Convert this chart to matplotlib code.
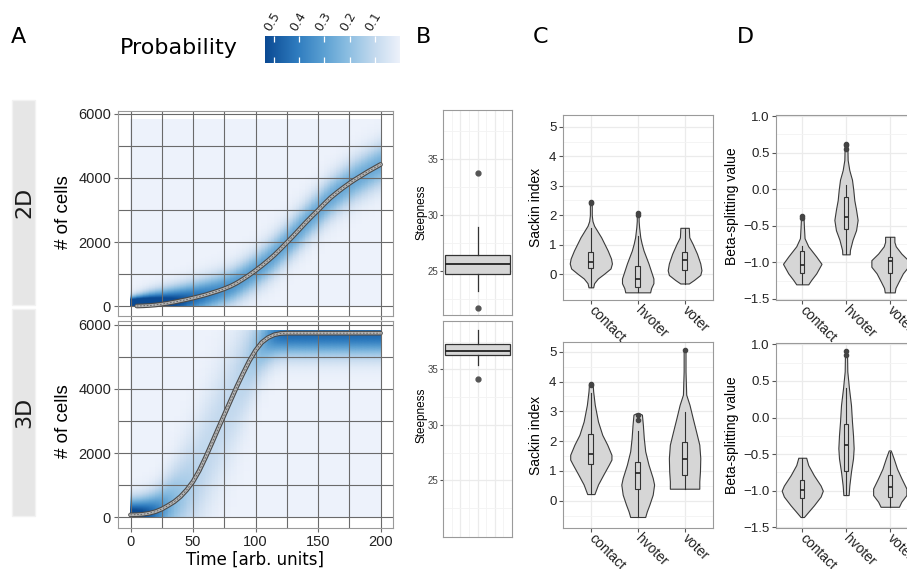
import numpy as np
import matplotlib
matplotlib.use("Agg")
import matplotlib.pyplot as plt
from matplotlib.colors import LinearSegmentedColormap
from matplotlib.patches import Rectangle
from matplotlib.transforms import blended_transform_factory

plt.rcParams['font.family'] = ['Liberation Sans', 'DejaVu Sans']

W, H = 907, 569

# ---------------- panel A: mean trajectory and its spread (every 5 time units)
time = np.arange(0, 201, 5)
mean_2d = [0, 2, 8, 18, 35, 60, 90, 125, 165, 205, 250, 300, 350, 410, 470, 540,
           620, 720, 840, 970, 1110, 1260, 1420, 1590, 1780, 1980, 2180, 2390, 2600,
           2800, 2990, 3190, 3380, 3540, 3690, 3830, 3960, 4080, 4200, 4310, 4420]
sd_2d = [160, 190, 220, 250, 270, 285, 300, 310, 320, 330, 340, 345, 350, 355, 360,
         365, 370, 375, 380, 385, 390, 395, 400, 405, 410, 410, 415, 415, 420, 420,
         425, 425, 430, 430, 435, 435, 440, 440, 445, 445, 450]
mean_3d = [70, 75, 90, 120, 170, 250, 360, 480, 640, 850, 1110, 1450, 1860, 2300,
           2750, 3190, 3630, 4070, 4480, 4870, 5200, 5450, 5600, 5690, 5730, 5740,
           5740, 5740, 5740, 5740, 5740, 5740, 5740, 5740, 5740, 5740, 5740, 5740,
           5740, 5740, 5740]
sd_3d = [330, 340, 360, 390, 430, 500, 600, 720, 840, 950, 1050, 1120, 1180, 1200,
         1200, 1200, 1180, 1130, 1050, 920, 780, 650, 560, 500, 470, 460, 460, 460,
         460, 460, 460, 460, 460, 460, 460, 460, 460, 460, 460, 460, 460]
dens_top = 5820
bin_w = 300
prob_ticks = [0.5, 0.4, 0.3, 0.2, 0.1]
vmax = 0.536

# ---------------- panel B: steepness box plots
steep_2d = dict(med=25.6, q1=24.7, q3=26.4, whislo=23.2, whishi=28.9, fliers=[33.8, 21.7])
steep_3d = dict(med=36.67, q1=36.26, q3=37.3, whislo=35.4, whishi=38.5, fliers=[34.1])

# ---------------- panels C and D: violin outlines (value, half width) and box stats
cats = ['contact', 'hvoter', 'voter']

sackin_2d_y = [[-0.45, -0.31, -0.15, 0.02, 0.19, 0.36, 0.53, 0.8, 1.25, 1.64, 1.8, 2.0, 2.3, 2.48],
               [-0.62, -0.48, -0.31, -0.15, 0.02, 0.36, 0.8, 1.03, 1.25, 1.59, 1.8, 2.09],
               [-0.32, -0.2, -0.03, 0.13, 0.36, 0.69, 1.03, 1.25, 1.57]]
sackin_2d_w = [[0.05, 0.07, 0.15, 0.29, 0.42, 0.45, 0.43, 0.36, 0.22, 0.07, 0.035, 0.02, 0.02, 0.02],
               [0.265, 0.285, 0.335, 0.335, 0.30, 0.23, 0.125, 0.085, 0.055, 0.03, 0.02, 0.02],
               [0.09, 0.2, 0.335, 0.36, 0.335, 0.265, 0.17, 0.10, 0.09]]
sackin_2d_box = [dict(med=0.41, q1=0.22, q3=0.75, whislo=-0.45, whishi=1.55, fliers=[2.4, 2.46]),
                 dict(med=-0.18, q1=-0.43, q3=0.27, whislo=-0.6, whishi=1.3, fliers=[2.02, 2.08]),
                 dict(med=0.47, q1=0.13, q3=0.75, whislo=-0.32, whishi=1.57, fliers=[])]

sackin_3d_y = [[0.22, 0.54, 0.87, 1.21, 1.38, 1.54, 1.88, 2.21, 2.66, 3.22, 3.67, 3.9, 3.95],
               [-0.55, -0.36, -0.13, 0.2, 0.54, 0.76, 1.21, 1.66, 2.1, 2.55, 2.89, 2.93],
               [0.4, 0.65, 0.98, 1.43, 1.88, 2.33, 2.77, 3.22, 3.56, 4.34, 5.01, 5.07]]
sackin_3d_w = [[0.077, 0.153, 0.265, 0.384, 0.44, 0.44, 0.35, 0.244, 0.153, 0.084, 0.05, 0.04, 0.02],
               [0.16, 0.195, 0.25, 0.32, 0.35, 0.32, 0.23, 0.16, 0.13, 0.11, 0.09, 0.04],
               [0.314, 0.314, 0.328, 0.335, 0.314, 0.244, 0.174, 0.105, 0.035, 0.02, 0.02, 0.014]]
sackin_3d_box = [dict(med=1.55, q1=1.24, q3=2.24, whislo=0.22, whishi=3.6, fliers=[3.88, 3.92]),
                 dict(med=0.93, q1=0.39, q3=1.3, whislo=-0.55, whishi=2.33, fliers=[2.72, 2.88]),
                 dict(med=1.41, q1=0.85, q3=1.96, whislo=0.4, whishi=2.98, fliers=[5.05])]

beta_2d_y = [[-1.3, -1.24, -1.15, -1.02, -0.92, -0.78, -0.67, -0.51, -0.4, -0.37],
             [-0.89, -0.83, -0.69, -0.56, -0.42, -0.28, -0.15, -0.01, 0.13, 0.26, 0.4, 0.62],
             [-1.41, -1.35, -1.26, -1.15, -1.06, -0.97, -0.88, -0.78, -0.72, -0.65]]
beta_2d_w = [[0.137, 0.205, 0.32, 0.44, 0.32, 0.137, 0.053, 0.038, 0.03, 0.023],
             [0.084, 0.09, 0.15, 0.23, 0.266, 0.23, 0.19, 0.167, 0.137, 0.076, 0.038, 0.03],
             [0.114, 0.13, 0.205, 0.30, 0.42, 0.42, 0.266, 0.137, 0.106, 0.106]]
beta_2d_box = [dict(med=-1.04, q1=-1.15, q3=-0.85, whislo=-1.3, whishi=-0.78, fliers=[-0.4, -0.37]),
               dict(med=-0.38, q1=-0.54, q3=-0.1, whislo=-0.89, whishi=0.06, fliers=[0.55, 0.6, 0.62]),
               dict(med=-0.98, q1=-1.14, q3=-0.93, whislo=-1.41, whishi=-0.65, fliers=[])]

beta_3d_y = [[-1.36, -1.29, -1.2, -1.08, -1.0, -0.93, -0.79, -0.65, -0.55],
             [-1.06, -0.93, -0.74, -0.56, -0.42, -0.24, -0.06, 0.17, 0.4, 0.63, 0.91],
             [-1.22, -1.15, -1.06, -0.97, -0.83, -0.7, -0.56, -0.45]]
beta_3d_w = [[0.038, 0.137, 0.266, 0.42, 0.47, 0.42, 0.266, 0.137, 0.09],
             [0.06, 0.076, 0.114, 0.16, 0.175, 0.16, 0.137, 0.114, 0.068, 0.03, 0.023],
             [0.21, 0.266, 0.38, 0.38, 0.266, 0.167, 0.09, 0.023]]
beta_3d_box = [dict(med=-0.99, q1=-1.1, q3=-0.85, whislo=-1.36, whishi=-0.55, fliers=[]),
               dict(med=-0.38, q1=-0.73, q3=-0.09, whislo=-1.06, whishi=0.4, fliers=[0.86, 0.91]),
               dict(med=-0.95, q1=-1.08, q3=-0.78, whislo=-1.22, whishi=-0.47, fliers=[])]

beta_ticks = [-1.5, -1.0, -0.5, 0.0, 0.5, 1.0]
beta_labels = ['\u22121.5', '\u22121.0', '\u22120.5', '0.0', '0.5', '1.0']

heat_cmap = LinearSegmentedColormap.from_list(
    'prob', [(0, '#edf2fb'), (0.19, '#c3d9ee'), (0.38, '#8dbfe2'), (0.57, '#5a9fd2'),
             (0.76, '#2f7cbf'), (1.0, '#0b4a93')])

fig = plt.figure(figsize=(W / 100, H / 100), dpi=100)


def px_axes(x0, y0, x1, y1):
    return fig.add_axes([x0 / W, 1 - y1 / H, (x1 - x0) / W, (y1 - y0) / H])


def density(mean, sd, y):
    m = np.asarray(mean, float)[None, :]
    s = np.asarray(sd, float)[None, :]
    pdf = np.exp(-0.5 * ((y[:, None] - m) / s) ** 2) / (s * np.sqrt(2 * np.pi))
    mass = pdf.sum(axis=0) * (y[1] - y[0])
    return pdf * bin_w / mass


def growth_panel(ax, mean, sd, ylim, start, show_x):
    y = np.linspace(0, dens_top, 292)
    P = density(mean, sd, y)
    ax.pcolormesh(time, y, P, shading='gouraud', cmap=heat_cmap, vmin=0, vmax=vmax, zorder=0.2)
    ax.plot(time[start:], mean[start:], color='#4a4a4a', lw=3.4, zorder=3, solid_capstyle='round')
    ax.plot(time[start:], mean[start:], color='#b5b5b5', lw=1.8, zorder=4)
    ax.plot(time[start:], mean[start:], color='#5a5a5a', lw=0.6, dashes=(2, 2), zorder=5)
    ax.set_xlim(-10, 210)
    ax.set_ylim(*ylim)
    ax.set_xticks([0, 50, 100, 150, 200])
    ax.set_xticks([25, 75, 125, 175], minor=True)
    ax.set_yticks([0, 2000, 4000, 6000])
    ax.set_yticks([1000, 3000, 5000], minor=True)
    ax.grid(True, which='both', color='#6a6a6a', lw=0.8)
    ax.set_axisbelow(True)
    ax.tick_params(which='major', length=3, color='#6a6a6a', labelsize=10.5, labelcolor='#222',
                   pad=2)
    ax.tick_params(which='minor', length=0)
    if not show_x:
        ax.tick_params(axis='x', labelbottom=False)
    for sp in ax.spines.values():
        sp.set_color('#9a9a9a')
        sp.set_linewidth(0.8)


ax_a1 = px_axes(118, 111, 393, 316)
growth_panel(ax_a1, mean_2d, sd_2d, (-310, 6090), 1, False)
ax_a2 = px_axes(118, 321, 393, 528)
growth_panel(ax_a2, mean_3d, sd_3d, (-340, 6120), 0, True)

fig.text(63 / W, 1 - 212 / H, '# of cells', rotation=90, ha='center', va='center', fontsize=13.5)
fig.text(63 / W, 1 - 421 / H, '# of cells', rotation=90, ha='center', va='center', fontsize=13.5)
fig.text(255 / W, 1 - 560 / H, 'Time [arb. units]', ha='center', va='center', fontsize=12,
         family='DejaVu Sans')

for y0, y1, lab in [(100, 305, '2D'), (309, 516, '3D')]:
    fig.patches.append(Rectangle((12 / W, 1 - y1 / H), 23 / W, (y1 - y0) / H,
                                 transform=fig.transFigure, facecolor='#e6e6e6',
                                 edgecolor='#f2f2f2', lw=1))
    fig.text(24 / W, 1 - (y0 + y1) / 2 / H, lab, rotation=90, ha='center', va='center',
             fontsize=16, family='DejaVu Sans', color='#1a1a1a')

# colour bar
cax = px_axes(265, 36, 400, 63)
grad = np.linspace(0, vmax, 256)[None, :]
cax.imshow(grad, aspect='auto', cmap=heat_cmap, vmin=0, vmax=vmax, extent=(0, vmax, 0, 1),
           origin='lower')
cax.set_xlim(vmax, 0)
cax.set_ylim(0, 1)
cax.set_xticks(prob_ticks)
cax.set_yticks([])
cax.tick_params(axis='x', direction='in', length=4, color='white', width=0.9,
                top=True, bottom=True, labelbottom=False)
for sp in cax.spines.values():
    sp.set_visible(False)
tr = blended_transform_factory(cax.transData, cax.transAxes)
for v in prob_ticks:
    cax.text(v + 0.004, 1.1, f'{v:.1f}', transform=tr, rotation=60, ha='left', va='bottom',
             rotation_mode='anchor', fontsize=9, family='DejaVu Sans', color='#222')
fig.text(120 / W, 1 - 48 / H, 'Probability', ha='left', va='center', fontsize=16,
         family='DejaVu Sans')

# ---------------- panel B
def steep_panel(ax, stats, ylim):
    ax.bxp([stats], positions=[0], widths=0.75, showcaps=False, patch_artist=True,
           boxprops=dict(facecolor='#d6d6d6', edgecolor='#333333', lw=0.9),
           medianprops=dict(color='#222222', lw=1.3),
           whiskerprops=dict(color='#333333', lw=0.9),
           flierprops=dict(marker='o', markersize=3.5, markerfacecolor='#555555',
                           markeredgecolor='#555555'), manage_ticks=False, zorder=3)
    ax.set_xlim(-0.4, 0.4)
    ax.set_ylim(*ylim)
    ax.set_xticks([-0.2, 0, 0.2])
    ax.set_xticks([-0.3, -0.1, 0.1, 0.3], minor=True)
    ax.set_yticks([25, 30, 35])
    ax.set_yticks([22.5, 27.5, 32.5, 37.5], minor=True)
    ax.grid(True, which='major', color='#ebebeb', lw=0.9)
    ax.grid(True, which='minor', color='#f3f3f3', lw=0.6)
    ax.set_axisbelow(True)
    ax.tick_params(axis='x', which='both', length=0, labelbottom=False)
    ax.tick_params(axis='y', which='major', length=2, color='#555', labelsize=7, labelcolor='#444', pad=1.5)
    ax.tick_params(axis='y', which='minor', length=0)
    for sp in ax.spines.values():
        sp.set_color('#9a9a9a')
        sp.set_linewidth(0.8)


ax_b1 = px_axes(443, 110, 512, 315)
steep_panel(ax_b1, steep_2d, (21.05, 39.4))
ax_b2 = px_axes(443, 321, 512, 537)
steep_panel(ax_b2, steep_3d, (19.9, 39.35))
fig.text(421 / W, 1 - 212 / H, 'Steepness', rotation=90, ha='center', va='center', fontsize=8.5)
fig.text(421 / W, 1 - 415 / H, 'Steepness', rotation=90, ha='center', va='center', fontsize=8.5)


# ---------------- panels C and D
def violin_panel(ax, ys, ws, boxes, ylim, yticks, yminor, ylabels=None):
    pos = [1, 2, 3]
    for p, yy, ww in zip(pos, ys, ws):
        yy = np.asarray(yy)
        ww = np.asarray(ww)
        ax.fill_betweenx(yy, p - ww, p + ww, facecolor='#d6d6d6', edgecolor='#3a3a3a',
                         lw=0.8, zorder=2)
    ax.bxp(boxes, positions=pos, widths=0.1, showcaps=False, patch_artist=True,
           boxprops=dict(facecolor='#d6d6d6', edgecolor='#333333', lw=0.8),
           medianprops=dict(color='#222222', lw=1.2),
           whiskerprops=dict(color='#333333', lw=0.8),
           flierprops=dict(marker='o', markersize=3, markerfacecolor='#444444',
                           markeredgecolor='#444444'), manage_ticks=False, zorder=3)
    ax.set_xlim(0.4, 3.6)
    ax.set_ylim(*ylim)
    ax.set_xticks(pos)
    ax.set_xticklabels(cats, rotation=-45, ha='left', va='center', rotation_mode='anchor',
                       fontsize=10, color='#222')
    ax.set_yticks(yticks)
    if ylabels is not None:
        ax.set_yticklabels(ylabels)
    ax.set_yticks(yminor, minor=True)
    ax.grid(True, which='major', color='#ebebeb', lw=0.9)
    ax.grid(True, which='minor', axis='y', color='#f3f3f3', lw=0.6)
    ax.set_axisbelow(True)
    ax.tick_params(axis='x', length=3, color='#555', pad=3)
    ax.tick_params(axis='y', which='major', length=3, color='#555', labelsize=9.5,
                   labelcolor='#222', pad=1.5)
    ax.tick_params(axis='y', which='minor', length=0)
    for sp in ax.spines.values():
        sp.set_color('#9a9a9a')
        sp.set_linewidth(0.8)


sackin_ticks = [0, 1, 2, 3, 4, 5]
sackin_minor = [-0.5, 0.5, 1.5, 2.5, 3.5, 4.5]
beta_minor = [-1.25, -0.75, -0.25, 0.25, 0.75]

ax_c1 = px_axes(562.7, 115, 712.7, 300)
violin_panel(ax_c1, sackin_2d_y, sackin_2d_w, sackin_2d_box, (-0.88, 5.4), sackin_ticks, sackin_minor)
ax_c2 = px_axes(562.7, 341.7, 712.7, 528.3)
violin_panel(ax_c2, sackin_3d_y, sackin_3d_w, sackin_3d_box, (-0.93, 5.34), sackin_ticks, sackin_minor)
ax_d1 = px_axes(776, 115, 916, 300)
violin_panel(ax_d1, beta_2d_y, beta_2d_w, beta_2d_box, (-1.514, 1.014), beta_ticks, beta_minor, beta_labels)
ax_d2 = px_axes(776, 343.3, 916, 528.3)
violin_panel(ax_d2, beta_3d_y, beta_3d_w, beta_3d_box, (-1.514, 1.014), beta_ticks, beta_minor, beta_labels)

fig.text(536 / W, 1 - 207.5 / H, 'Sackin index', rotation=90, ha='center', va='center', fontsize=10)
fig.text(536 / W, 1 - 435 / H, 'Sackin index', rotation=90, ha='center', va='center', fontsize=10)
fig.text(732 / W, 1 - 206.5 / H, 'Beta-splitting value', rotation=90, ha='center', va='center', fontsize=10)
fig.text(732 / W, 1 - 435 / H, 'Beta-splitting value', rotation=90, ha='center', va='center', fontsize=10)

for x, lab in [(18, 'A'), (424, 'B'), (541, 'C'), (745, 'D')]:
    fig.text(x / W, 1 - 37 / H, lab, ha='center', va='center', fontsize=16, family='DejaVu Sans')

fig.savefig('out.png', dpi=100)
